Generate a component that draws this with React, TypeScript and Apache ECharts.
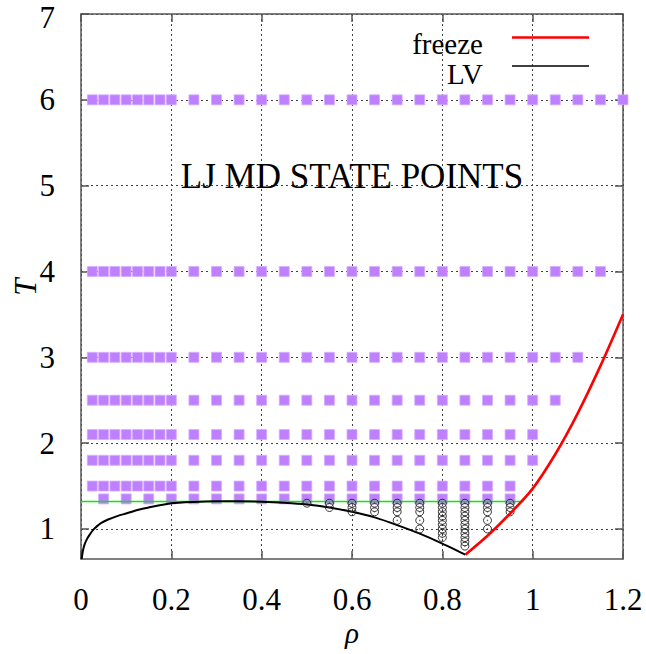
import React, { useEffect, useRef } from "react";
import * as echarts from "echarts";

// ---------- data ----------
const RHO_TICKS = [0, 0.2, 0.4, 0.6, 0.8, 1.0, 1.2];
const T_TICKS = [1, 2, 3, 4, 5, 6, 7];

const RHO_LOW = [0.025, 0.05, 0.075, 0.1, 0.125, 0.15, 0.175, 0.2];

const ROW_T6 = [0.25, 0.3, 0.35, 0.4, 0.45, 0.5, 0.55, 0.6, 0.65, 0.7, 0.75, 0.8, 0.85, 0.9, 0.95, 1.0, 1.05, 1.1, 1.15, 1.2];
const ROW_T4 = [0.25, 0.3, 0.35, 0.4, 0.45, 0.5, 0.55, 0.6, 0.65, 0.7, 0.75, 0.8, 0.85, 0.9, 0.95, 1.0, 1.05, 1.1, 1.15];
const ROW_T3 = [0.25, 0.3, 0.35, 0.4, 0.45, 0.5, 0.55, 0.6, 0.65, 0.7, 0.75, 0.8, 0.85, 0.9, 0.95, 1.0, 1.05, 1.1];
const ROW_T25 = [0.25, 0.3, 0.35, 0.4, 0.45, 0.5, 0.55, 0.6, 0.65, 0.7, 0.75, 0.8, 0.85, 0.9, 0.95, 1.0, 1.05];
const ROW_T21 = [0.25, 0.3, 0.35, 0.4, 0.45, 0.5, 0.55, 0.6, 0.65, 0.7, 0.75, 0.8, 0.85, 0.9, 0.95, 1.0];
const ROW_T18 = [0.25, 0.3, 0.35, 0.4, 0.45, 0.5, 0.55, 0.6, 0.65, 0.7, 0.75, 0.8, 0.85, 0.9, 0.95, 1.0];
const ROW_T15 = [0.25, 0.3, 0.35, 0.4, 0.45, 0.5, 0.55, 0.6, 0.65, 0.7, 0.75, 0.8, 0.85, 0.9, 0.95];
const ROW_T135 = [0.05, 0.1, 0.15, 0.2, 0.25, 0.3, 0.35, 0.4, 0.45, 0.5, 0.55, 0.6, 0.65, 0.7, 0.75, 0.8, 0.85, 0.9, 0.95];

const SQUARE_ROWS: [number, number[]][] = [
  [6, [...RHO_LOW, ...ROW_T6]],
  [4, [...RHO_LOW, ...ROW_T4]],
  [3, [...RHO_LOW, ...ROW_T3]],
  [2.5, [...RHO_LOW, ...ROW_T25]],
  [2.1, [...RHO_LOW, ...ROW_T21]],
  [1.8, [...RHO_LOW, ...ROW_T18]],
  [1.5, [...RHO_LOW, ...ROW_T15]],
  [1.35, ROW_T135],
];

// open circles: density -> temperatures
const CIRCLE_COLUMNS: [number, number[]][] = [
  [0.5, [1.3]],
  [0.55, [1.3, 1.25]],
  [0.6, [1.3, 1.25, 1.2]],
  [0.65, [1.3, 1.25, 1.2]],
  [0.7, [1.3, 1.25, 1.2, 1.1]],
  [0.75, [1.3, 1.25, 1.2, 1.1, 1.0]],
  [0.8, [1.3, 1.25, 1.2, 1.15, 1.1, 1.05, 1.0, 0.95, 0.9]],
  [0.85, [1.3, 1.25, 1.2, 1.15, 1.1, 1.05, 1.0, 0.95, 0.9, 0.85, 0.8]],
  [0.9, [1.3, 1.25, 1.2, 1.1, 1.0]],
  [0.95, [1.3, 1.25, 1.2]],
];

const TC_LINE_RHO = [0.0, 0.98];
const TC_LINE_T = 1.32;

const LV_RHO = [0.0015, 0.004, 0.008, 0.014, 0.02, 0.027, 0.035, 0.045, 0.06, 0.08, 0.1, 0.125, 0.15, 0.2, 0.25, 0.3, 0.35, 0.4, 0.45, 0.5, 0.55, 0.6, 0.65, 0.7, 0.75, 0.8, 0.851];
const LV_T = [0.65, 0.74, 0.82, 0.89, 0.94, 0.99, 1.03, 1.07, 1.11, 1.15, 1.18, 1.22, 1.25, 1.3, 1.315, 1.322, 1.323, 1.318, 1.305, 1.285, 1.25, 1.2, 1.135, 1.045, 0.945, 0.83, 0.7];

const FREEZE_RHO = [0.851, 0.9, 0.95, 1.0, 1.05, 1.1, 1.15, 1.2];
const FREEZE_T = [0.7, 0.92, 1.18, 1.47, 1.87, 2.35, 2.9, 3.5];

// ---------- chart ----------
const FONT = "Liberation Serif";
const GRID_LEFT = 81;
const GRID_RIGHT = 23;
const GRID_TOP = 14;
const GRID_BOTTOM = 95;

export default function App() {
  const ref = useRef<HTMLDivElement>(null);

  useEffect(() => {
    if (!ref.current) return;
    const chart = echarts.init(ref.current, undefined, { renderer: "svg" });

    const squareData: number[][] = [];
    SQUARE_ROWS.forEach(([t, rhos]) => rhos.forEach((r) => squareData.push([r, t])));
    const circleData: number[][] = [];
    CIRCLE_COLUMNS.forEach(([r, ts]) => ts.forEach((t) => circleData.push([r, t])));

    const axisLineStyle = { color: "#555", width: 1.5 };
    const gridLine = { show: true, lineStyle: { color: "#444", width: 1, type: [2, 3] as any } };
    const topTick = T_TICKS[T_TICKS.length - 1];

    const option: any = {
      animation: false,
      backgroundColor: "#fff",
      grid: { left: GRID_LEFT, right: GRID_RIGHT, top: GRID_TOP, bottom: GRID_BOTTOM, containLabel: false },
      xAxis: [
        {
          type: "value",
          min: 0,
          max: 1.2,
          interval: 0.2,
          position: "bottom",
          axisLine: { show: true, onZero: false, lineStyle: axisLineStyle },
          axisTick: { show: true, inside: true, length: 8, lineStyle: axisLineStyle },
          axisLabel: {
            show: true,
            margin: 27.5,
            fontFamily: FONT,
            fontSize: 31,
            lineHeight: 26,
            color: "#000",
            formatter: (v: number) => (RHO_TICKS.some((t) => Math.abs(t - v) < 1e-6) ? String(+v.toFixed(1)) : ""),
          },
          splitLine: gridLine,
        },
        {
          type: "value",
          min: 0,
          max: 1.2,
          interval: 0.2,
          position: "top",
          axisLine: { show: true, onZero: false, lineStyle: axisLineStyle },
          axisTick: { show: true, inside: true, length: 8, lineStyle: axisLineStyle },
          axisLabel: { show: false },
          splitLine: { show: false },
        },
      ],
      yAxis: [
        {
          type: "value",
          min: 0.65,
          max: 7,
          position: "left",
          axisLine: { show: true, onZero: false, lineStyle: axisLineStyle },
          axisTick: { show: true, inside: true, length: 8, lineStyle: axisLineStyle, customValues: T_TICKS },
          axisLabel: {
            show: true,
            margin: 26,
            fontFamily: FONT,
            fontSize: 31,
            lineHeight: 26,
            color: "#000",
            customValues: T_TICKS.slice(0, -1),
          },
          splitLine: gridLine,
        },
        {
          type: "value",
          min: 0.65,
          max: 7,
          position: "right",
          axisLine: { show: true, onZero: false, lineStyle: axisLineStyle },
          axisTick: { show: true, inside: true, length: 8, lineStyle: axisLineStyle, customValues: T_TICKS },
          axisLabel: { show: false },
          splitLine: { show: false },
        },
      ],
      series: [
        {
          type: "scatter",
          name: "state points",
          data: squareData,
          symbol: "rect",
          symbolSize: 10,
          itemStyle: { color: "#bf80ff", borderColor: "#d6adff", borderWidth: 0.8, opacity: 1 },
          z: 3,
        },
        {
          type: "line",
          name: "Tc",
          data: TC_LINE_RHO.map((r) => [r, TC_LINE_T]),
          showSymbol: false,
          lineStyle: { color: "#00ee00", width: 1.6 },
          z: 4,
        },
        {
          type: "line",
          name: "LV",
          data: LV_RHO.map((r, i) => [r, LV_T[i]]),
          showSymbol: false,
          smooth: 0.2,
          lineStyle: { color: "#000", width: 2 },
          z: 5,
        },
        {
          type: "scatter",
          name: "two-phase",
          data: circleData,
          symbol: "circle",
          symbolSize: 8,
          itemStyle: { color: "rgba(255,255,255,0)", borderColor: "#222", borderWidth: 0.9, opacity: 1 },
          z: 6,
        },
        {
          type: "scatter",
          name: "two-phase-dot",
          data: circleData,
          symbol: "circle",
          symbolSize: 1.4,
          itemStyle: { color: "#333" },
          z: 6,
        },
        {
          type: "line",
          name: "freeze",
          data: FREEZE_RHO.map((r, i) => [r, FREEZE_T[i]]),
          showSymbol: false,
          smooth: 0.3,
          lineStyle: { color: "#ff0000", width: 2.6 },
          z: 7,
        },
      ],
    };

    chart.setOption(option);

    const topY = chart.convertToPixel({ yAxisIndex: 0 }, topTick) as number;
    const leftX = chart.convertToPixel({ xAxisIndex: 0 }, 0) as number;

    chart.setOption({
      graphic: [
        {
          type: "text",
          x: leftX - 26,
          y: topY + 3,
          style: { text: String(topTick), fontFamily: FONT, fontSize: 31, fill: "#000", align: "right", verticalAlign: "middle" },
          z: 10,
        },
        {
          type: "text",
          x: 352,
          y: 176,
          style: {
            text: "LJ MD STATE POINTS",
            fontFamily: FONT,
            fontSize: 35,
            fill: "#000",
            align: "center",
            verticalAlign: "middle",
          },
          z: 10,
        },
        {
          type: "text",
          x: 483,
          y: 44,
          style: { text: "freeze", fontFamily: FONT, fontSize: 29, lineHeight: 24, fill: "#000", align: "right", verticalAlign: "middle" },
          z: 10,
        },
        {
          type: "line",
          shape: { x1: 512, y1: 37.5, x2: 589, y2: 37.5 },
          style: { stroke: "#ff0000", lineWidth: 2.6 },
          z: 10,
        },
        {
          type: "text",
          x: 483,
          y: 74,
          style: { text: "LV", fontFamily: FONT, fontSize: 29, lineHeight: 24, fill: "#000", align: "right", verticalAlign: "middle" },
          z: 10,
        },
        {
          type: "line",
          shape: { x1: 512, y1: 66, x2: 589, y2: 66 },
          style: { stroke: "#000", lineWidth: 1.6 },
          z: 10,
        },
        {
          type: "text",
          x: 352,
          y: 633,
          style: { text: "ρ", fontFamily: FONT, fontSize: 29, fontStyle: "italic", fill: "#000", align: "center", verticalAlign: "middle" },
          z: 10,
        },
        {
          type: "text",
          x: 25,
          y: 287,
          rotation: Math.PI / 2,
          style: { text: "T", fontFamily: FONT, fontSize: 31, fontStyle: "italic", fill: "#000", align: "center", verticalAlign: "middle" },
          z: 10,
        },
      ],
    });

    return () => chart.dispose();
  }, []);

  return <div ref={ref} style={{ width: 646, height: 654, position: "absolute", left: 0, top: 0 }} />;
}
